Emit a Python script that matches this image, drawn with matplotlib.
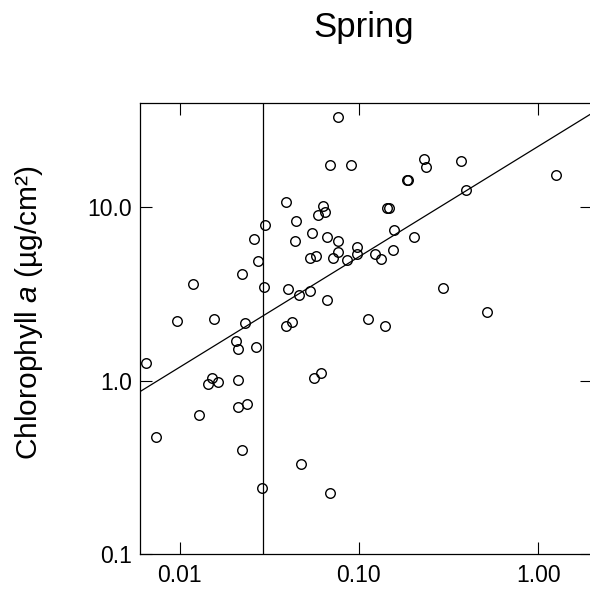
import numpy as np
import matplotlib
matplotlib.use("Agg")
import matplotlib.pyplot as plt
from matplotlib.ticker import FixedLocator, FixedFormatter, NullLocator

plt.rcParams['font.family'] = ['Liberation Sans', 'DejaVu Sans']
plt.rcParams['mathtext.fontset'] = 'custom'
plt.rcParams['mathtext.rm'] = 'Liberation Sans'
plt.rcParams['mathtext.it'] = 'Liberation Sans:italic'

# ---- data ----
x_vals = [0.00652, 0.00738, 0.00962, 0.01193, 0.01283, 0.01446, 0.01508, 0.01548,
          0.01644, 0.02064, 0.02118, 0.02118, 0.02107, 0.02218, 0.02218, 0.02326,
          0.02378, 0.02611, 0.02679, 0.02739, 0.02894, 0.02943, 0.03008, 0.03925,
          0.03925, 0.04217, 0.04016, 0.04422, 0.04479, 0.04656, 0.04734, 0.05362,
          0.05328, 0.05741, 0.05481, 0.05623, 0.05891, 0.06177, 0.06313, 0.06503,
          0.06646, 0.06646, 0.06934, 0.06934, 0.07142, 0.07655, 0.07655, 0.07655,
          0.08595, 0.09048, 0.09721, 0.09772, 0.1126, 0.1233, 0.1330, 0.1393,
          0.1442, 0.1471, 0.1552, 0.1564, 0.1848, 0.1889, 0.2040, 0.2299,
          0.2359, 0.2962, 0.3699, 0.3980, 0.5167, 1.254]
y_vals = [1.258, 0.4717, 2.215, 3.633, 0.6313, 0.9610, 1.031, 2.266,
          0.9829, 1.699, 1.522, 1.009, 0.7055, 0.4006, 4.147, 2.158,
          0.7303, 6.543, 1.569, 4.927, 0.2411, 3.463, 7.878, 10.69,
          2.065, 2.177, 3.364, 6.397, 8.340, 3.119, 0.3297, 3.289,
          5.127, 5.231, 7.067, 1.031, 8.995, 1.112, 10.21, 9.458,
          6.701, 2.919, 0.2257, 17.52, 5.121, 33.23, 6.372, 5.514,
          4.973, 17.52, 5.932, 5.370, 2.266, 5.384, 5.040, 2.054,
          9.908, 9.850, 5.640, 7.402, 14.36, 14.36, 6.720, 18.90,
          16.99, 3.444, 18.40, 12.58, 2.506, 15.29]

fit_intercept_log10 = 1.3513   # log10(y) at x = 1
fit_slope = 0.6366
threshold_x = 0.0292

x_ticks = [0.01, 0.1, 1.0]
x_ticklabels = ["0.01", "0.10", "1.00"]
y_ticks = [0.1, 1.0, 10.0]
y_ticklabels = ["0.1", "1.0", "10.0"]
x_limits = (0.006, 2.0)
y_limits = (0.1, 40.0)

# ---- figure ----
fig = plt.figure(figsize=(5.9, 5.92), dpi=100)
ax = fig.add_axes([140/590, 38/592, 452/590, 451/592])
ax.set_xscale('log')
ax.set_yscale('log')
ax.set_xlim(*x_limits)
ax.set_ylim(*y_limits)

ax.plot(x_vals, y_vals, linestyle='none', marker='o', markersize=6.9,
        markerfacecolor='none', markeredgecolor='black', markeredgewidth=1.0)

xl = np.logspace(np.log10(x_limits[0]), np.log10(x_limits[1]), 50)
ax.plot(xl, 10 ** (fit_intercept_log10 + fit_slope * np.log10(xl)),
        color='black', linewidth=0.9)
ax.axvline(threshold_x, color='black', linewidth=0.9)

ax.xaxis.set_major_locator(FixedLocator(x_ticks))
ax.xaxis.set_major_formatter(FixedFormatter(x_ticklabels))
ax.yaxis.set_major_locator(FixedLocator(y_ticks))
ax.yaxis.set_major_formatter(FixedFormatter(y_ticklabels))
ax.xaxis.set_minor_locator(NullLocator())
ax.yaxis.set_minor_locator(NullLocator())

ax.tick_params(axis='both', which='major', direction='in', length=8.6, width=0.8,
               top=True, right=True, labelsize=16.5, colors='black')
ax.tick_params(axis='x', pad=7)
ax.tick_params(axis='y', pad=6)
for s in ax.spines.values():
    s.set_linewidth(0.9)

fig.text(364/590, 1 - 37/592, "Spring", ha='center', va='baseline', fontsize=25)
fig.text(29/590, 1 - 313/592, "Chlorophyll $a$ (µg/cm²)", rotation=90,
         ha='center', va='center', fontsize=21.5)

fig.savefig("out.png", dpi=100)
